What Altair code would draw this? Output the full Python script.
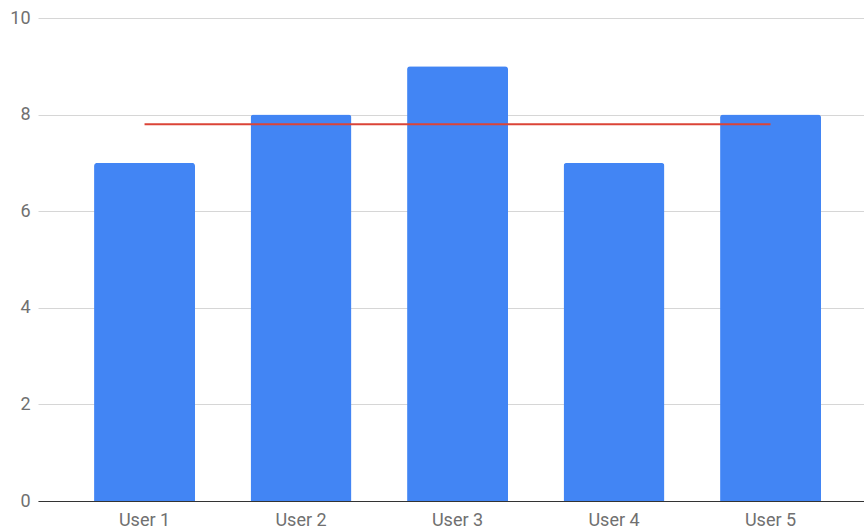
import altair as alt
import pandas as pd

# Scores per user
users = ["User 1", "User 2", "User 3", "User 4", "User 5"]
scores = [7, 8, 9, 7, 8]

df = pd.DataFrame({"user": users, "score": scores})

x_enc = alt.X(
    "user:N",
    sort=users,
    title=None,
    scale=alt.Scale(paddingInner=0.355, paddingOuter=0.3165, align=0.566),
    axis=alt.Axis(
        labelAngle=0,
        ticks=False,
        domain=True,
        domainColor="#333333",
        domainWidth=1.2,
        labelColor="#707070",
        labelFontSize=18,
        labelFont="Roboto",
        labelPadding=10,
    ),
)

y_scale = alt.Scale(domain=[0, 10], nice=False)
y_axis = alt.Axis(
    values=[0, 2, 4, 6, 8, 10],
    ticks=False,
    domain=False,
    grid=True,
    gridColor="#d6d6d6",
    gridWidth=1,
    labelColor="#707070",
    labelFontSize=18,
    labelFont="Roboto",
    labelPadding=8,
    title=None,
)

bars = alt.Chart(df).mark_bar(
    color="#4285F4", cornerRadiusTopLeft=3, cornerRadiusTopRight=3
).encode(
    x=x_enc,
    y=alt.Y("score:Q", scale=y_scale, axis=y_axis),
)

# Average line across all users
avg_line = alt.Chart(df).transform_joinaggregate(
    avg="mean(score)"
).mark_line(color="#DB4437", strokeWidth=2.2).encode(
    x=x_enc,
    y=alt.Y("avg:Q", scale=y_scale, axis=y_axis),
)

chart = alt.layer(bars, avg_line).properties(
    width=826,
    height=483,
    autosize=alt.AutoSizeParams(type="none"),
    padding={"left": 38, "top": 18, "right": 0, "bottom": 30},
    background="white",
).configure_view(stroke=None)

chart.save("out.html", embed_options={"renderer": "svg", "actions": False})
